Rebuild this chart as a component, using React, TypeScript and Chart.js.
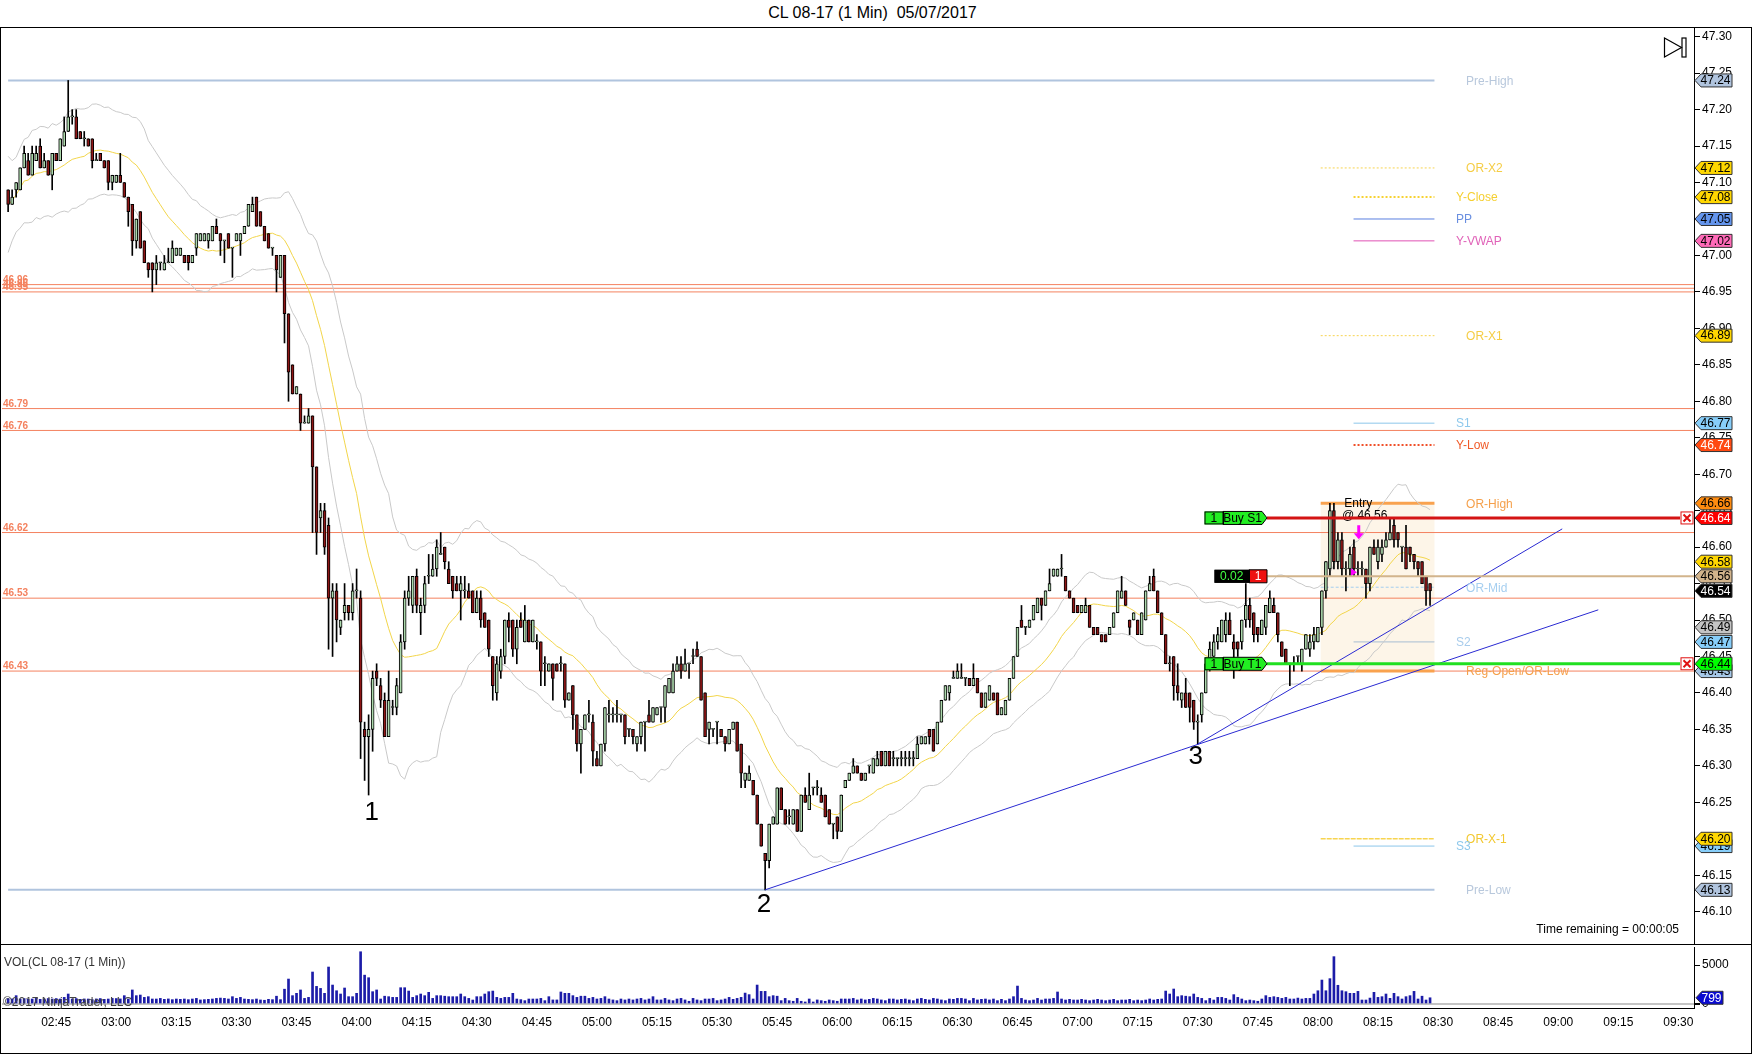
import React, { useEffect, useRef } from 'react';
import Chart from 'chart.js/auto';

const WIDTH = 1752;
const HEIGHT = 1054;
const FONT = 'Arial, "Liberation Sans", sans-serif';

const TITLE = 'CL 08-17 (1 Min)  05/07/2017';
const VOLUME_TITLE = 'VOL(CL 08-17 (1 Min))';
const COPYRIGHT = '\u00a92017 NinjaTrader, LLC';
const TIME_REMAINING = 'Time remaining = 00:00:05';

// first bar is 02:33 (minutes after midnight), one bar per minute
const FIRST_MINUTE = 153;

// candle prices in cents, rows of 15 minutes
const openCents = [
  4709, 4707, 4709, 4709, 4712, 4713, 4711, 4713, 4715, 4712, 4713, 4711,
  4714, 4713, 4715, 4717, 4719, 4719, 4717, 4716, 4716, 4716, 4713, 4714, 4713, 4713, 4710,
  4710, 4711, 4710, 4708, 4707, 4702, 4706, 4702, 4699, 4699, 4698, 4699, 4698, 4699, 4699,
  4700, 4700, 4700, 4700, 4699, 4701, 4702, 4702, 4702, 4702, 4704, 4703, 4702, 4703, 4701,
  4702, 4702, 4703, 4704, 4706, 4708, 4706, 4704, 4703, 4701, 4700, 4697, 4700, 4692, 4685,
  4681, 4681, 4677, 4677, 4678, 4671, 4664, 4665, 4663, 4653, 4654, 4649, 4651, 4652, 4651,
  4654, 4653, 4635, 4634, 4635, 4643, 4641, 4639, 4634, 4638, 4638, 4640, 4647, 4653, 4652,
  4656, 4651, 4652, 4656, 4656, 4657, 4659, 4660, 4657, 4656, 4655, 4654, 4654, 4654, 4654,
  4651, 4653, 4651, 4650, 4645, 4640, 4643, 4645, 4650, 4650, 4646, 4650, 4647, 4650, 4647,
  4647, 4647, 4644, 4643, 4644, 4644, 4644, 4644, 4639, 4641, 4637, 4633, 4635, 4637, 4636,
  4631, 4630, 4633, 4637, 4637, 4637, 4637, 4637, 4635, 4635, 4633, 4634, 4636, 4637, 4636,
  4637, 4638, 4638, 4640, 4640, 4643, 4644, 4643, 4644, 4645, 4646, 4645, 4640, 4635, 4635,
  4636, 4635, 4634, 4633, 4635, 4636, 4633, 4628, 4628, 4628, 4626, 4622, 4618, 4617, 4622,
  4622, 4627, 4624, 4623, 4622, 4624, 4621, 4626, 4624, 4627, 4627, 4626, 4626, 4624, 4622,
  4623, 4621, 4627, 4628, 4629, 4630, 4629, 4628, 4630, 4629, 4630, 4632, 4630, 4632, 4631,
  4631, 4631, 4631, 4631, 4631, 4631, 4633, 4633, 4635, 4635, 4633, 4636, 4639, 4640, 4642,
  4642, 4642, 4642, 4642, 4641, 4642, 4640, 4638, 4639, 4640, 4640, 4637, 4637, 4639, 4642,
  4645, 4650, 4649, 4649, 4650, 4651, 4653, 4652, 4654, 4656, 4656, 4657, 4656, 4654, 4653,
  4652, 4651, 4651, 4652, 4649, 4649, 4648, 4648, 4648, 4649, 4651, 4653, 4654, 4650, 4650,
  4650, 4648, 4650, 4654, 4656, 4654, 4651, 4648, 4644, 4645, 4641, 4639, 4640, 4640, 4639,
  4636, 4637, 4640, 4644, 4645, 4647, 4647, 4648, 4650, 4647, 4647, 4647, 4650, 4652, 4651,
  4649, 4648, 4649, 4651, 4652, 4651, 4647, 4646, 4644, 4644, 4645, 4644, 4646, 4646, 4647,
  4647, 4649, 4654, 4657, 4665, 4658, 4661, 4657, 4657, 4660, 4657, 4657, 4657, 4655, 4660,
  4658, 4659, 4660, 4661, 4663, 4662, 4660, 4660, 4660, 4659, 4658, 4658, 4656, 4655,
];

const highCents = [
  4709, 4709, 4710, 4712, 4715, 4714, 4715, 4715, 4716, 4714, 4713, 4714,
  4714, 4716, 4719, 4724, 4720, 4720, 4717, 4717, 4716, 4716, 4714, 4714, 4713, 4713, 4711,
  4711, 4714, 4710, 4708, 4707, 4705, 4706, 4702, 4699, 4699, 4700, 4699, 4700, 4701, 4702,
  4701, 4701, 4700, 4700, 4700, 4703, 4703, 4703, 4703, 4704, 4705, 4703, 4702, 4703, 4701,
  4703, 4703, 4704, 4707, 4708, 4708, 4706, 4704, 4703, 4701, 4700, 4700, 4700, 4692, 4685,
  4682, 4681, 4678, 4679, 4678, 4671, 4666, 4666, 4664, 4655, 4655, 4650, 4655, 4652, 4655,
  4657, 4654, 4636, 4637, 4643, 4644, 4642, 4640, 4643, 4639, 4642, 4648, 4654, 4656, 4656,
  4657, 4653, 4656, 4659, 4659, 4661, 4662, 4660, 4658, 4656, 4656, 4656, 4656, 4655, 4654,
  4654, 4654, 4651, 4650, 4645, 4645, 4646, 4650, 4651, 4650, 4650, 4651, 4652, 4650, 4650,
  4648, 4647, 4645, 4644, 4644, 4644, 4645, 4644, 4640, 4641, 4637, 4635, 4637, 4639, 4637,
  4632, 4633, 4638, 4639, 4638, 4639, 4637, 4637, 4635, 4635, 4634, 4636, 4636, 4639, 4638,
  4638, 4638, 4641, 4642, 4644, 4645, 4645, 4646, 4644, 4646, 4647, 4645, 4640, 4636, 4635,
  4636, 4635, 4634, 4635, 4636, 4636, 4633, 4629, 4630, 4628, 4626, 4622, 4618, 4622, 4623,
  4627, 4627, 4624, 4624, 4624, 4624, 4626, 4627, 4629, 4627, 4628, 4627, 4626, 4624, 4622,
  4623, 4626, 4628, 4629, 4631, 4630, 4629, 4629, 4630, 4631, 4632, 4632, 4632, 4632, 4632,
  4631, 4632, 4632, 4632, 4632, 4634, 4634, 4634, 4635, 4635, 4636, 4639, 4641, 4641, 4643,
  4644, 4644, 4642, 4642, 4644, 4642, 4640, 4640, 4641, 4640, 4640, 4638, 4639, 4642, 4645,
  4649, 4652, 4649, 4650, 4652, 4653, 4653, 4654, 4657, 4657, 4657, 4659, 4656, 4654, 4653,
  4652, 4652, 4653, 4652, 4649, 4649, 4648, 4648, 4649, 4651, 4654, 4656, 4654, 4650, 4651,
  4650, 4651, 4654, 4656, 4657, 4654, 4651, 4648, 4645, 4645, 4644, 4640, 4642, 4640, 4639,
  4637, 4640, 4644, 4647, 4648, 4649, 4650, 4651, 4651, 4648, 4647, 4650, 4655, 4653, 4651,
  4649, 4650, 4652, 4654, 4653, 4651, 4647, 4646, 4644, 4645, 4645, 4646, 4648, 4648, 4649,
  4649, 4654, 4658, 4666, 4666, 4662, 4662, 4658, 4660, 4661, 4658, 4658, 4657, 4660, 4661,
  4661, 4661, 4662, 4664, 4664, 4662, 4660, 4663, 4660, 4659, 4658, 4658, 4656, 4655,
];

const lowCents = [
  4706, 4707, 4708, 4709, 4712, 4711, 4711, 4713, 4712, 4712, 4711, 4709,
  4713, 4713, 4715, 4717, 4718, 4716, 4716, 4715, 4715, 4712, 4713, 4713, 4712, 4709, 4709,
  4710, 4710, 4708, 4704, 4700, 4701, 4701, 4699, 4697, 4695, 4696, 4698, 4698, 4699, 4699,
  4700, 4700, 4699, 4698, 4699, 4700, 4702, 4702, 4701, 4702, 4703, 4700, 4699, 4701, 4697,
  4702, 4700, 4703, 4704, 4706, 4704, 4704, 4702, 4701, 4700, 4695, 4697, 4688, 4680, 4681,
  4681, 4676, 4677, 4677, 4662, 4659, 4662, 4659, 4646, 4645, 4647, 4648, 4650, 4650, 4650,
  4653, 4631, 4628, 4626, 4632, 4641, 4638, 4634, 4634, 4637, 4637, 4640, 4646, 4652, 4651,
  4651, 4648, 4651, 4655, 4656, 4656, 4659, 4657, 4655, 4653, 4654, 4650, 4653, 4653, 4651,
  4651, 4649, 4649, 4645, 4639, 4639, 4642, 4644, 4647, 4645, 4644, 4649, 4647, 4647, 4647,
  4646, 4641, 4641, 4643, 4639, 4643, 4643, 4638, 4639, 4635, 4632, 4629, 4635, 4636, 4630,
  4630, 4630, 4632, 4636, 4636, 4636, 4636, 4633, 4634, 4633, 4632, 4633, 4632, 4636, 4636,
  4637, 4636, 4636, 4640, 4640, 4643, 4642, 4643, 4642, 4644, 4645, 4639, 4634, 4633, 4634,
  4633, 4634, 4632, 4633, 4635, 4632, 4627, 4627, 4628, 4626, 4622, 4619, 4613, 4616, 4622,
  4622, 4624, 4622, 4622, 4622, 4621, 4621, 4625, 4624, 4626, 4626, 4625, 4623, 4622, 4620,
  4620, 4621, 4627, 4628, 4629, 4629, 4628, 4628, 4629, 4629, 4630, 4630, 4630, 4630, 4630,
  4630, 4630, 4630, 4630, 4630, 4631, 4633, 4633, 4633, 4632, 4633, 4636, 4639, 4639, 4642,
  4642, 4642, 4641, 4641, 4641, 4640, 4638, 4638, 4639, 4639, 4637, 4637, 4637, 4639, 4642,
  4645, 4649, 4648, 4649, 4650, 4651, 4650, 4652, 4654, 4656, 4656, 4656, 4654, 4653, 4651,
  4651, 4651, 4651, 4649, 4648, 4648, 4647, 4647, 4648, 4649, 4651, 4653, 4652, 4648, 4650,
  4648, 4648, 4650, 4654, 4654, 4651, 4648, 4644, 4643, 4639, 4639, 4638, 4638, 4636, 4635,
  4633, 4636, 4640, 4643, 4645, 4646, 4647, 4647, 4648, 4642, 4645, 4646, 4649, 4649, 4647,
  4647, 4648, 4648, 4651, 4651, 4647, 4645, 4644, 4641, 4643, 4644, 4643, 4646, 4645, 4646,
  4647, 4648, 4653, 4656, 4657, 4657, 4656, 4654, 4656, 4656, 4656, 4656, 4653, 4654, 4659,
  4657, 4658, 4660, 4661, 4660, 4660, 4658, 4657, 4658, 4657, 4656, 4655, 4652, 4652,
];

const closeCents = [
  4707, 4708, 4710, 4712, 4714, 4711, 4714, 4714, 4712, 4713, 4711, 4714,
  4713, 4716, 4717, 4719, 4719, 4716, 4716, 4716, 4715, 4713, 4713, 4713, 4712, 4710, 4711,
  4711, 4710, 4708, 4706, 4702, 4705, 4701, 4699, 4698, 4698, 4699, 4699, 4699, 4699, 4701,
  4701, 4701, 4699, 4699, 4700, 4703, 4703, 4703, 4703, 4704, 4703, 4702, 4702, 4701, 4701,
  4703, 4703, 4704, 4707, 4707, 4704, 4704, 4702, 4701, 4701, 4698, 4700, 4692, 4684, 4681,
  4682, 4677, 4677, 4678, 4671, 4662, 4665, 4660, 4653, 4654, 4650, 4650, 4652, 4651, 4654,
  4654, 4636, 4634, 4635, 4642, 4642, 4639, 4634, 4639, 4638, 4641, 4647, 4653, 4654, 4656,
  4652, 4652, 4655, 4656, 4657, 4660, 4659, 4658, 4655, 4654, 4654, 4655, 4654, 4653, 4651,
  4653, 4650, 4649, 4646, 4641, 4644, 4645, 4650, 4649, 4646, 4649, 4649, 4650, 4647, 4650,
  4647, 4643, 4644, 4644, 4642, 4643, 4644, 4639, 4640, 4637, 4633, 4635, 4637, 4637, 4632,
  4630, 4633, 4638, 4637, 4637, 4637, 4637, 4634, 4635, 4634, 4634, 4636, 4636, 4636, 4638,
  4638, 4638, 4641, 4642, 4643, 4644, 4643, 4644, 4644, 4645, 4645, 4639, 4634, 4636, 4635,
  4636, 4634, 4633, 4635, 4636, 4632, 4629, 4629, 4629, 4626, 4622, 4619, 4617, 4622, 4623,
  4627, 4624, 4622, 4623, 4624, 4621, 4626, 4625, 4626, 4627, 4627, 4625, 4623, 4622, 4622,
  4621, 4626, 4628, 4629, 4630, 4629, 4628, 4629, 4630, 4631, 4631, 4630, 4632, 4630, 4631,
  4631, 4631, 4631, 4631, 4631, 4633, 4634, 4634, 4634, 4632, 4636, 4639, 4641, 4641, 4642,
  4643, 4642, 4642, 4641, 4642, 4640, 4638, 4640, 4641, 4639, 4637, 4638, 4639, 4642, 4645,
  4649, 4649, 4649, 4650, 4652, 4653, 4652, 4654, 4655, 4657, 4657, 4657, 4654, 4653, 4651,
  4651, 4652, 4652, 4649, 4648, 4648, 4647, 4647, 4649, 4651, 4654, 4654, 4652, 4649, 4651,
  4648, 4651, 4654, 4655, 4654, 4651, 4648, 4644, 4644, 4641, 4640, 4640, 4638, 4638, 4636,
  4636, 4640, 4644, 4646, 4647, 4648, 4650, 4650, 4648, 4646, 4646, 4650, 4652, 4650, 4648,
  4648, 4650, 4652, 4653, 4651, 4648, 4645, 4644, 4644, 4644, 4645, 4646, 4648, 4647, 4648,
  4649, 4654, 4658, 4665, 4658, 4661, 4657, 4657, 4659, 4657, 4657, 4657, 4655, 4660, 4659,
  4660, 4660, 4661, 4662, 4661, 4661, 4660, 4657, 4659, 4658, 4657, 4655, 4654, 4654,
];

const volumes = [
  700, 650, 1070, 640, 700, 600, 640, 720, 600, 650, 700, 640,
  700, 640, 850, 1280, 640, 700, 600, 650, 640, 560, 650, 700, 600, 640, 720,
  700, 650, 1070, 640, 1800, 1070, 1150, 850, 940, 640, 640, 720, 600, 650, 560,
  640, 600, 640, 560, 640, 720, 520, 560, 600, 640, 720, 760, 720, 640, 940,
  720, 850, 640, 600, 560, 640, 520, 480, 600, 560, 1000, 560, 1900, 3200, 1070,
  1370, 1800, 720, 850, 4100, 2260, 2000, 1370, 4740, 2430, 1700, 1280, 2050, 940, 940,
  1370, 6700, 3700, 3370, 1580, 1800, 640, 1000, 940, 850, 850, 2090, 2090, 1660, 850,
  1070, 1280, 1070, 1500, 720, 1070, 1070, 1000, 940, 940, 940, 1280, 940, 720, 510,
  940, 940, 1280, 1580, 1660, 850, 720, 850, 850, 1370, 640, 560, 430, 640, 640,
  640, 720, 430, 940, 520, 520, 1540, 1370, 1370, 1070, 850, 1000, 1000, 720, 850,
  640, 720, 940, 640, 520, 430, 640, 520, 640, 520, 640, 720, 520, 640, 940,
  520, 520, 720, 520, 430, 640, 720, 520, 350, 720, 520, 430, 640, 640, 720,
  430, 520, 640, 850, 600, 720, 850, 1400, 1200, 640, 2430, 1620, 1620, 940, 1070,
  1000, 430, 720, 430, 350, 720, 350, 260, 640, 260, 520, 430, 350, 520, 430,
  350, 640, 640, 640, 720, 520, 640, 520, 600, 720, 640, 520, 430, 640, 640,
  520, 600, 640, 520, 430, 640, 720, 600, 520, 720, 640, 520, 430, 640, 600,
  720, 720, 640, 430, 720, 520, 600, 640, 520, 640, 430, 600, 430, 640, 940,
  2300, 720, 510, 430, 510, 720, 510, 640, 640, 720, 1540, 640, 510, 600, 510,
  510, 600, 510, 430, 510, 600, 510, 430, 510, 600, 430, 510, 510, 600, 430,
  510, 430, 510, 640, 510, 600, 640, 1660, 1280, 1920, 940, 1070, 1000, 940, 1280,
  850, 720, 430, 720, 510, 850, 850, 720, 510, 1200, 850, 640, 430, 510, 430,
  350, 640, 1070, 850, 940, 850, 720, 850, 640, 640, 760, 640, 720, 720, 1280,
  1700, 3070, 1700, 3250, 6070, 2400, 1700, 1580, 1370, 1370, 1620, 510, 510, 760, 1500,
  850, 940, 1280, 730, 1370, 940, 640, 940, 1070, 1620, 640, 1000, 510, 799,
];

const priceTicks = [
  46.1, 46.15, 46.2, 46.25, 46.3, 46.35, 46.4, 46.45, 46.5, 46.55, 46.6, 46.65, 46.7,
  46.75, 46.8, 46.85, 46.9, 46.95, 47.0, 47.05, 47.1, 47.15, 47.2, 47.25, 47.3,
];
const timeTickLabels = [
  '02:45', '03:00', '03:15', '03:30', '03:45', '04:00', '04:15', '04:30', '04:45',
  '05:00', '05:15', '05:30', '05:45', '06:00', '06:15', '06:30', '06:45', '07:00',
  '07:15', '07:30', '07:45', '08:00', '08:15', '08:30', '08:45', '09:00', '09:15', '09:30',
];
const volumeTicks = [0, 5000];

// horizontal levels
const preHigh = 47.24;
const preLow = 46.13;
const leftLevelValues = [46.96, 46.955, 46.95, 46.79, 46.76, 46.62, 46.53, 46.43];
const leftLevelLabels = ['46.96', '46.95', '46.95', '46.79', '46.76', '46.62', '46.53', '46.43'];
const orLevelNames = ['OR-X2', 'OR-X1', 'OR-High', 'OR-Mid', 'Reg-Open/OR-Low', 'OR-X-1'];
const orLevelValues = [47.12, 46.89, 46.66, 46.545, 46.43, 46.2];
const pivotLevelNames = ['Y-Close', 'PP', 'Y-VWAP', 'S1', 'Y-Low', 'S2', 'S3'];
const pivotLevelValues = [47.08, 47.05, 47.02, 46.77, 46.74, 46.47, 46.19];

// orders
const stopPrice = 46.64;
const targetPrice = 46.44;
const positionPrice = 46.56;
const entryMinute = 489;

// drawings
const trendMinutes = [[342, 550], [450, 541]];
const trendPrices = [[46.13, 46.514], [46.33, 46.625]];
const waveLabels = ['1', '2', '3'];
const waveMinutes = [243.8, 341.7, 449.5];
const wavePrices = [46.235, 46.109, 46.313];

// price-axis markers
const badgeValues = [47.24, 47.12, 47.08, 47.05, 47.02, 46.89, 46.77, 46.74, 46.66, 46.64, 46.58, 46.56, 46.54, 46.49, 46.47, 46.43, 46.44, 46.19, 46.2, 46.13];
const lastVolume = 799;

// ---- layout / styles ----
const X_MIN = 151.47;
const X_MAX = 573.9;
const Y_MIN = 46.0557;
const Y_MAX = 47.3133;
const V_MIN = -513;
const V_MAX = 7308;
const OR_START = 480.7;
const PIVOT_START = 488.9;
const LEVEL_END = 509.1;
const OR_LABEL_AT = 517;
const PIVOT_LABEL_AT = 514.5;

const UP = '#acd8ac';
const DOWN = '#8e1616';
const LEFT_LINE = '#f4825f';
const GOLD = '#f7d450';
const SKY = '#8cc6ea';

const orStyles = [
  { color: GOLD, width: 1, dash: [2, 2], text: '#f5cd45' },
  { color: GOLD, width: 1, dash: [2, 2], text: '#f5cd45' },
  { color: '#f9a24e', width: 3, dash: [], text: '#f5a04b' },
  { color: '#a6cff0', width: 1, dash: [3, 2], text: '#a6cff0' },
  { color: '#f9a24e', width: 3, dash: [], text: '#f5a04b' },
  { color: GOLD, width: 1.5, dash: [5, 1], text: '#f2c830' },
];
const pivotStyles = [
  { color: '#f7d232', width: 2, dash: [2, 2], text: '#f5cf30' },
  { color: '#5a7fe0', width: 1, dash: [], text: '#6a8fe0' },
  { color: '#e052b4', width: 1, dash: [], text: '#e062b8' },
  { color: SKY, width: 1, dash: [], text: '#8ec8ec' },
  { color: '#f0502a', width: 2, dash: [2, 2], text: '#f05a28' },
  { color: '#a8bed4', width: 1, dash: [], text: '#a8ccec' },
  { color: SKY, width: 1, dash: [], text: '#8ec8ec' },
];
const badgeStyles = [
  ['#b0c4de', '#000'], ['#ffd700', '#000'], ['#ffd700', '#000'], ['#6495ed', '#000'],
  ['#ff6ab8', '#000'], ['#ffd700', '#000'], ['#87cefa', '#000'], ['#ff4a12', '#fff'],
  ['#ff8c10', '#000'], ['#ff0000', '#fff'], ['#ffd700', '#000'], ['#d2b48c', '#000'],
  ['#000000', '#fff'], ['#c4c4c4', '#000'], ['#87cefa', '#000'], ['#a6c8e8', '#000'],
  ['#00ff00', '#000'], ['#87cefa', '#000'], ['#ffd700', '#000'], ['#b0c4de', '#000'],
];

const minutes = closeCents.map((_, i) => FIRST_MINUTE + i);
const cents = (c: number) => c / 100;
const timeTickValues = timeTickLabels.map((s) => {
  const [h, m] = s.split(':').map(Number);
  return h * 60 + m;
});

// chart indicators: 20-bar average of close, channel from the 20-bar average range
function movingAverage(values: number[], period: number) {
  return values.map((_, i) => {
    const start = Math.max(0, i - period + 1);
    let sum = 0;
    for (let j = start; j <= i; j++) sum += values[j];
    return sum / (i - start + 1);
  });
}
const maCents = movingAverage(closeCents, 20);
const rangeCents = movingAverage(highCents.map((h, i) => h - lowCents[i]), 20);
const upperCents = maCents.map((m, i) => m + 2.2 * rangeCents[i]);
const lowerCents = maCents.map((m, i) => m - 2.2 * rangeCents[i]);

function hLine(y: number, x0: number, x1: number, color: string, width: number, dash: number[], order: number) {
  return {
    type: 'line' as const,
    data: [{ x: x0, y }, { x: x1, y }],
    borderColor: color,
    borderWidth: width,
    borderDash: dash,
    pointRadius: 0,
    fill: false,
    order,
  };
}

function series(values: number[], color: string, order: number) {
  return {
    type: 'line' as const,
    data: values.map((v, i) => ({ x: minutes[i], y: cents(v) })),
    borderColor: color,
    borderWidth: 1,
    pointRadius: 0,
    tension: 0,
    fill: false,
    order,
  };
}

function drawBadge(ctx: CanvasRenderingContext2D, x: number, yc: number, w: number, fill: string, text: string, textColor: string) {
  const h = 13;
  ctx.beginPath();
  ctx.moveTo(x, yc);
  ctx.lineTo(x + 6, yc - h / 2);
  ctx.lineTo(x + w, yc - h / 2);
  ctx.lineTo(x + w, yc + h / 2);
  ctx.lineTo(x + 6, yc + h / 2);
  ctx.closePath();
  ctx.fillStyle = fill;
  ctx.fill();
  ctx.strokeStyle = '#333';
  ctx.lineWidth = 1;
  ctx.stroke();
  ctx.fillStyle = textColor;
  ctx.font = `12px ${FONT}`;
  ctx.textAlign = 'center';
  ctx.textBaseline = 'middle';
  ctx.fillText(text, x + 4 + (w - 4) / 2, yc + 0.5);
}

function drawTag(ctx: CanvasRenderingContext2D, left: number, divider: number, right: number, tip: number, yc: number,
  fills: [string, string], texts: [string, string], colors: [string, string]) {
  const h = 13;
  const top = yc - h / 2;
  ctx.fillStyle = fills[0];
  ctx.fillRect(left, top, divider - left, h);
  ctx.beginPath();
  ctx.moveTo(divider, top);
  ctx.lineTo(right, top);
  ctx.lineTo(tip, yc);
  ctx.lineTo(right, top + h);
  ctx.lineTo(divider, top + h);
  ctx.closePath();
  ctx.fillStyle = fills[1];
  ctx.fill();
  ctx.strokeStyle = '#000';
  ctx.lineWidth = 1;
  ctx.strokeRect(left + 0.5, top + 0.5, divider - left, h - 1);
  ctx.stroke();
  ctx.font = `12px ${FONT}`;
  ctx.textBaseline = 'middle';
  ctx.textAlign = 'center';
  ctx.fillStyle = colors[0];
  ctx.fillText(texts[0], (left + divider) / 2, yc + 0.5);
  ctx.fillStyle = colors[1];
  ctx.fillText(texts[1], (divider + right) / 2, yc + 0.5);
}

function drawCloseBox(ctx: CanvasRenderingContext2D, x: number, yc: number) {
  ctx.fillStyle = '#fff';
  ctx.fillRect(x, yc - 6.5, 12.5, 13);
  ctx.strokeStyle = '#e01010';
  ctx.lineWidth = 1;
  ctx.strokeRect(x + 0.5, yc - 6, 12, 12);
  ctx.lineWidth = 2;
  ctx.beginPath();
  ctx.moveTo(x + 3, yc - 3.5);
  ctx.lineTo(x + 10, yc + 3.5);
  ctx.moveTo(x + 10, yc - 3.5);
  ctx.lineTo(x + 3, yc + 3.5);
  ctx.stroke();
}

const priceOverlay = {
  id: 'priceOverlay',
  beforeDatasetsDraw(chart: any) {
    const { ctx, scales } = chart;
    const x = scales.x;
    const y = scales.y;
    // opening range box
    const x0 = x.getPixelForValue(OR_START);
    const x1 = x.getPixelForValue(LEVEL_END);
    const y0 = y.getPixelForValue(orLevelValues[2]);
    const y1 = y.getPixelForValue(orLevelValues[4]);
    ctx.save();
    ctx.fillStyle = 'rgba(250, 232, 205, 0.45)';
    ctx.fillRect(x0, y0, x1 - x0, y1 - y0);
    ctx.restore();
  },
  afterDatasetsDraw(chart: any) {
    const { ctx, chartArea: a, scales } = chart;
    const x = scales.x;
    const y = scales.y;
    ctx.save();

    // left labels of the full-width levels
    ctx.font = `bold 10px ${FONT}`;
    ctx.textAlign = 'left';
    ctx.textBaseline = 'bottom';
    ctx.fillStyle = LEFT_LINE;
    leftLevelValues.forEach((v, i) => ctx.fillText(leftLevelLabels[i], a.left + 1, y.getPixelForValue(v) + 0.5));

    // right labels of session levels
    ctx.font = `12px ${FONT}`;
    ctx.textBaseline = 'middle';
    ctx.fillStyle = '#b8c8dc';
    ctx.fillText('Pre-High', x.getPixelForValue(OR_LABEL_AT), y.getPixelForValue(preHigh) + 1);
    ctx.fillText('Pre-Low', x.getPixelForValue(OR_LABEL_AT), y.getPixelForValue(preLow) + 1);
    orLevelNames.forEach((n, i) => {
      ctx.fillStyle = orStyles[i].text;
      ctx.fillText(n, x.getPixelForValue(OR_LABEL_AT), y.getPixelForValue(orLevelValues[i]) + 1);
    });
    pivotLevelNames.forEach((n, i) => {
      ctx.fillStyle = pivotStyles[i].text;
      ctx.fillText(n, x.getPixelForValue(PIVOT_LABEL_AT), y.getPixelForValue(pivotLevelValues[i]) + 1);
    });

    // entry marker
    const ex = x.getPixelForValue(entryMinute);
    ctx.fillStyle = '#000';
    ctx.textBaseline = 'middle';
    ctx.fillText('Entry', x.getPixelForValue(486.6), y.getPixelForValue(46.659));
    ctx.fillText('@ 46.56', x.getPixelForValue(486.0), y.getPixelForValue(46.643));
    ctx.strokeStyle = '#ff00ff';
    ctx.fillStyle = '#ff00ff';
    ctx.lineWidth = 3;
    const ax = x.getPixelForValue(entryMinute + 1.2);
    const ayTop = y.getPixelForValue(46.63);
    const ayBot = y.getPixelForValue(46.612);
    ctx.beginPath();
    ctx.moveTo(ax, ayTop);
    ctx.lineTo(ax, ayBot - 4);
    ctx.stroke();
    ctx.beginPath();
    ctx.moveTo(ax - 5, ayBot - 5);
    ctx.lineTo(ax + 5, ayBot - 5);
    ctx.lineTo(ax, ayBot + 1);
    ctx.closePath();
    ctx.fill();
    const ty = y.getPixelForValue(positionPrice) - 4;
    ctx.beginPath();
    ctx.moveTo(ex - 3, ty - 4);
    ctx.lineTo(ex + 3, ty);
    ctx.lineTo(ex - 3, ty + 4);
    ctx.closePath();
    ctx.fill();

    // order lines
    const r = a.right;
    const ys = y.getPixelForValue(stopPrice);
    const yt = y.getPixelForValue(targetPrice);
    const yp = y.getPixelForValue(positionPrice);
    ctx.lineWidth = 2;
    ctx.strokeStyle = '#d2b48c';
    ctx.beginPath();
    ctx.moveTo(r - 427, yp);
    ctx.lineTo(r, yp);
    ctx.stroke();
    ctx.lineWidth = 3;
    ctx.strokeStyle = '#d41414';
    ctx.beginPath();
    ctx.moveTo(r - 427, ys);
    ctx.lineTo(r - 14, ys);
    ctx.stroke();
    ctx.strokeStyle = '#20e020';
    ctx.beginPath();
    ctx.moveTo(r - 427, yt);
    ctx.lineTo(r - 14, yt);
    ctx.stroke();
    drawTag(ctx, r - 489.5, r - 471, r - 432, r - 427, ys, ['#22ee22', '#22ee22'], ['1', 'Buy S1'], ['#000', '#000']);
    drawTag(ctx, r - 489.5, r - 471, r - 432, r - 427, yt, ['#22ee22', '#22ee22'], ['1', 'Buy T1'], ['#000', '#000']);
    drawTag(ctx, r - 479.5, r - 445, r - 427, r - 427, yp, ['#000000', '#ee1010'], ['0.02', '1'], ['#44ff44', '#fff']);
    drawCloseBox(ctx, r - 13.5, ys);
    drawCloseBox(ctx, r - 13.5, yt);

    // wave labels
    ctx.fillStyle = '#000';
    ctx.font = `26px ${FONT}`;
    ctx.textAlign = 'center';
    ctx.textBaseline = 'middle';
    waveLabels.forEach((l, i) => ctx.fillText(l, x.getPixelForValue(waveMinutes[i]), y.getPixelForValue(wavePrices[i])));

    // go-to-end icon
    ctx.strokeStyle = '#000';
    ctx.lineWidth = 1.2;
    ctx.beginPath();
    ctx.moveTo(r - 29.5, a.top + 11);
    ctx.lineTo(r - 12.5, a.top + 20.5);
    ctx.lineTo(r - 29.5, a.top + 30);
    ctx.closePath();
    ctx.stroke();
    ctx.strokeRect(r - 12, a.top + 11, 4, 19);
    ctx.restore();
  },
  afterDraw(chart: any) {
    const { ctx, chartArea: a, scales } = chart;
    ctx.save();
    badgeValues.forEach((v, i) => {
      drawBadge(ctx, a.right + 1, scales.y.getPixelForValue(v), 37, badgeStyles[i][0], v.toFixed(2), badgeStyles[i][1]);
    });
    ctx.restore();
  },
};

const volumeOverlay = {
  id: 'volumeOverlay',
  afterDraw(chart: any) {
    const { ctx, chartArea: a, scales } = chart;
    ctx.save();
    drawBadge(ctx, a.right + 2, scales.y.getPixelForValue(lastVolume), 27, '#0a0ad0', String(lastVolume), '#fff');
    ctx.restore();
  },
};

function priceConfig(): any {
  const levelDatasets: any[] = [];
  leftLevelValues.forEach((v) => levelDatasets.push(hLine(v, X_MIN, X_MAX, LEFT_LINE, 1, [], 8)));
  levelDatasets.push(hLine(preHigh, FIRST_MINUTE, LEVEL_END, '#b0c4de', 2, [], 7));
  levelDatasets.push(hLine(preLow, FIRST_MINUTE, LEVEL_END, '#b0c4de', 2, [], 7));
  orLevelValues.forEach((v, i) => levelDatasets.push(hLine(v, OR_START, LEVEL_END, orStyles[i].color, orStyles[i].width, orStyles[i].dash, 6)));
  pivotLevelValues.forEach((v, i) => levelDatasets.push(hLine(v, PIVOT_START, LEVEL_END, pivotStyles[i].color, pivotStyles[i].width, pivotStyles[i].dash, 6)));

  const trendDatasets = trendMinutes.map((m, i) => ({
    type: 'line',
    data: [{ x: m[0], y: trendPrices[i][0] }, { x: m[1], y: trendPrices[i][1] }],
    borderColor: '#2a2ad2',
    borderWidth: 1,
    pointRadius: 0,
    fill: false,
    order: 0,
  }));

  return {
    type: 'bar',
    data: {
      datasets: [
        ...trendDatasets,
        {
          type: 'bar',
          data: minutes.map((m, i) => ({
            x: m,
            y: [cents(Math.min(openCents[i], closeCents[i])), cents(Math.max(openCents[i], closeCents[i]))],
          })),
          backgroundColor: closeCents.map((c, i) => (c >= openCents[i] ? UP : DOWN)),
          borderColor: '#000',
          borderWidth: 1,
          borderSkipped: false,
          barThickness: 3,
          minBarLength: 1,
          grouped: false,
          order: 1,
        },
        {
          type: 'bar',
          data: minutes.map((m, i) => ({ x: m, y: [cents(lowCents[i]), cents(highCents[i])] })),
          backgroundColor: '#000',
          borderWidth: 0,
          barThickness: 1,
          grouped: false,
          order: 2,
        },
        series(maCents, '#f2d54a', 3),
        series(upperCents, '#c9c9c9', 4),
        series(lowerCents, '#c9c9c9', 4),
        ...levelDatasets,
      ],
    },
    options: {
      animation: false,
      responsive: false,
      events: [],
      layout: { padding: { top: 27, left: 2, right: 0, bottom: 1 } },
      plugins: { legend: { display: false }, tooltip: { enabled: false } },
      scales: {
        x: {
          type: 'linear',
          min: X_MIN,
          max: X_MAX,
          offset: false,
          display: false,
          grid: { offset: false },
        },
        y: {
          type: 'linear',
          position: 'right',
          min: Y_MIN,
          max: Y_MAX,
          beginAtZero: false,
          afterBuildTicks: (s: any) => {
            s.ticks = priceTicks.map((v) => ({ value: v }));
          },
          afterFit: (s: any) => {
            s.width = 58;
            s.paddingTop = 0;
            s.paddingBottom = 0;
          },
          ticks: {
            autoSkip: false,
            padding: 2,
            color: '#000',
            font: { family: FONT, size: 12 },
            callback: (v: number) => Number(v).toFixed(2),
          },
          grid: { drawOnChartArea: false, drawTicks: true, tickLength: 6, tickColor: '#000' },
          border: { display: true, color: '#000', width: 1 },
        },
      },
    },
    plugins: [priceOverlay],
  };
}

function volumeConfig(): any {
  return {
    type: 'bar',
    data: {
      datasets: [
        {
          data: minutes.map((m, i) => ({ x: m, y: volumes[i] })),
          backgroundColor: '#1c1ca8',
          borderWidth: 0,
          barThickness: 2,
          grouped: false,
        },
      ],
    },
    options: {
      animation: false,
      responsive: false,
      events: [],
      layout: { padding: { top: 2, left: 2, right: 0, bottom: 0 } },
      plugins: { legend: { display: false }, tooltip: { enabled: false } },
      scales: {
        x: {
          type: 'linear',
          min: X_MIN,
          max: X_MAX,
          offset: false,
          afterBuildTicks: (s: any) => {
            s.ticks = timeTickValues.map((v) => ({ value: v }));
          },
          afterFit: (s: any) => {
            s.height = 46;
            s.paddingLeft = 0;
            s.paddingRight = 0;
          },
          ticks: {
            autoSkip: false,
            maxRotation: 0,
            padding: 3,
            color: '#000',
            font: { family: FONT, size: 12 },
            callback: (_v: number, i: number) => timeTickLabels[i],
          },
          grid: { offset: false, drawOnChartArea: false, drawTicks: true, tickLength: 4, tickColor: 'rgba(0,0,0,0)' },
          border: { display: true, color: '#000', width: 1 },
        },
        y: {
          type: 'linear',
          position: 'right',
          min: V_MIN,
          max: V_MAX,
          beginAtZero: false,
          afterBuildTicks: (s: any) => {
            s.ticks = volumeTicks.map((v) => ({ value: v }));
          },
          afterFit: (s: any) => {
            s.width = 58;
            s.paddingTop = 0;
            s.paddingBottom = 0;
          },
          ticks: {
            autoSkip: false,
            padding: 2,
            color: '#000',
            font: { family: FONT, size: 12 },
            callback: (v: number) => String(v),
          },
          grid: {
            drawOnChartArea: true,
            drawTicks: true,
            tickLength: 6,
            tickColor: '#000',
            color: (c: any) => (c.tick && c.tick.value === 0 ? '#c4c4c4' : 'rgba(0,0,0,0)'),
            lineWidth: (c: any) => (c.tick && c.tick.value === 0 ? 2 : 1),
          },
          border: { display: true, color: '#000', width: 1 },
        },
      },
    },
    plugins: [volumeOverlay],
  };
}

export default function App() {
  const priceRef = useRef<HTMLCanvasElement>(null);
  const volumeRef = useRef<HTMLCanvasElement>(null);

  useEffect(() => {
    if (!priceRef.current || !volumeRef.current) return;
    const priceChart = new Chart(priceRef.current, priceConfig());
    const volumeChart = new Chart(volumeRef.current, volumeConfig());
    return () => {
      priceChart.destroy();
      volumeChart.destroy();
    };
  }, []);

  const text: React.CSSProperties = { position: 'absolute', fontSize: 12, lineHeight: '14px', whiteSpace: 'pre' };

  return (
    <div style={{ position: 'fixed', left: 0, top: 0, width: WIDTH, height: HEIGHT, background: '#fff', fontFamily: FONT, overflow: 'hidden' }}>
      <div style={{ position: 'absolute', top: 4, left: 0, width: WIDTH - 7, textAlign: 'center', fontSize: 16, lineHeight: '18px', whiteSpace: 'pre' }}>
        {TITLE}
      </div>
      <canvas ref={priceRef} width={WIDTH} height={945} style={{ position: 'absolute', left: 0, top: 0 }} />
      <canvas ref={volumeRef} width={WIDTH} height={109} style={{ position: 'absolute', left: 0, top: 945 }} />
      <div style={{ ...text, right: WIDTH - 1679, top: 922, color: '#000' }}>{TIME_REMAINING}</div>
      <div style={{ ...text, left: 4, top: 955, color: '#333' }}>{VOLUME_TITLE}</div>
      <div style={{ ...text, left: 3, top: 995, color: '#444' }}>{COPYRIGHT}</div>
      <div style={{ position: 'absolute', left: 0, top: 27, width: WIDTH, height: HEIGHT - 27, border: '1px solid #000', boxSizing: 'border-box', pointerEvents: 'none' }} />
      <div style={{ position: 'absolute', left: 0, top: 944, width: WIDTH, height: 1, background: '#000' }} />
    </div>
  );
}
